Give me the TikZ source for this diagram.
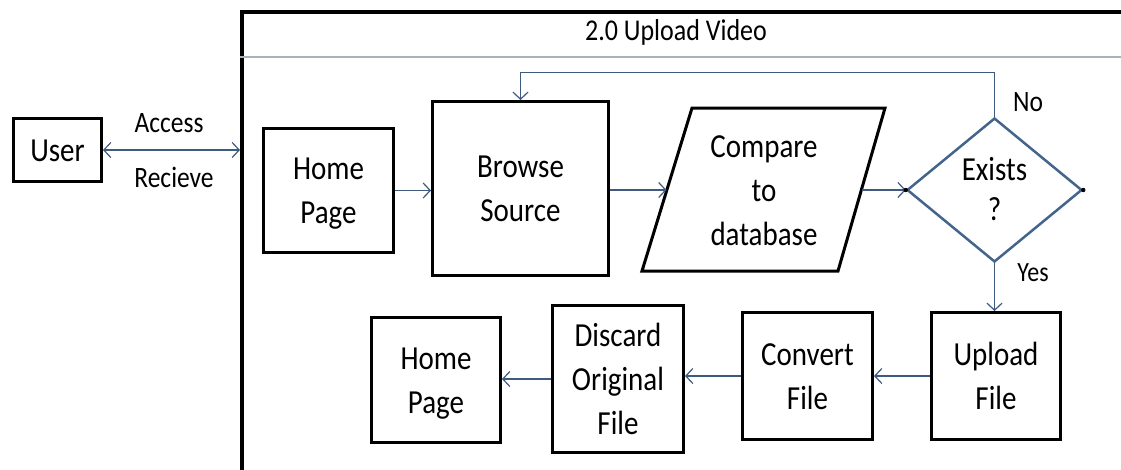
\documentclass[tikz,border=0pt]{standalone}
\usepackage{fontspec}
\usepackage{graphicx}
\setmainfont{Carlito}
\usetikzlibrary{arrows.meta,shapes.geometric}
\definecolor{linkcol}{HTML}{3E5A7E}
\definecolor{diacol}{HTML}{44648C}
\definecolor{rulecol}{HTML}{A9B1BA}
\newcommand\boxfont{\fontsize{29}{38}\selectfont}
\newcommand\lblfont{\fontsize{25.5}{26}\selectfont}
\newcommand\titlefont{\fontsize{26}{26}\selectfont}
% text set slightly taller than wide, ink nudged down a little
\newcommand\tall[1]{\raisebox{-2.5pt}[\height][\depth]{\scalebox{1}[1.16]{\begin{tabular}{@{}c@{}}#1\end{tabular}}}}
\tikzset{
  x=1pt, y=-1pt,
  stepbox/.style={draw=black, line width=3pt, inner sep=0pt, align=center, font=\boxfont},
  barb/.tip={Straight Barb[length=7pt,width=15pt,line width=1.2pt]},
  flow/.style={draw=linkcol, line width=1.3pt, -barb},
  lbl/.style={font=\lblfont, inner sep=0pt}
}
\begin{document}
\begin{tikzpicture}
\useasboundingbox (0,0) rectangle (1121,469);
\clip (0,0) rectangle (1121,469);
\fill[white] (0,0) rectangle (1121,469);

% process frame, open to the right and bottom
\node[draw, line width=3.5pt, minimum width=1000, minimum height=600,
      anchor=north west, inner sep=0pt] (frame) at (240,10) {};
\node[font=\titlefont, inner sep=0pt] (title) at (676,32) {\tall{2.0 Upload Video}};
\coordinate (sepR) at (1121,57);
\draw[rulecol, line width=1.2pt] (frame.west |- sepR) -- (sepR);

% external entity
\node[stepbox, minimum width=88, minimum height=63] (usr) at (57.5,150) {\tall{User}};
\draw[flow, barb-barb] (usr.east) -- (usr.east -| frame.west);
\node[lbl] (acc) at (169,123.5) {\tall{Access}};
\node[lbl] (rcv) at (174,178.5) {\tall{Recieve}};

% upper row
\node[stepbox, minimum width=130, minimum height=124] (home1) at (328.5,190.5) {\tall{Home\\Page}};
\node[stepbox, minimum width=176, minimum height=174] (brw) at (520.5,188.5) {\tall{Browse\\Source}};

\node[align=center, font=\boxfont, inner sep=0pt] (cmp) at (764,190) {\tall{Compare\\to\\database}};
\draw[line width=3pt, line join=miter] (692,108) -- (885,108) -- (838,271) -- (642,271) -- cycle;
\coordinate (cmpW) at (666.5,190);
\coordinate (cmpE) at (862,190);

\node[diamond, draw=diacol, line width=2.5pt, minimum width=175, minimum height=144,
      aspect=1.215, inner sep=0pt, align=center, font={\fontsize{29}{34.5}\selectfont}]
      (ex) at (994.5,190) {\tall{Exists\\?}};

\draw[flow] (home1.east) -- (brw.west |- home1.east);
\draw[flow] (brw.east |- cmpW) -- (cmpW);
\draw[flow] (cmpE) -- (ex.west);
\fill (ex.west) circle (2.2);
\fill (ex.east) circle (2.2);

\draw[flow] (ex.north) -- ++(0,-44) -| (brw.north);
\node[lbl] (no) at (1028,102.5) {\tall{No}};

% lower row
\node[stepbox, minimum width=129, minimum height=127] (upl) at (996,376) {\tall{Upload\\File}};
\node[stepbox, minimum width=130, minimum height=127] (cnv) at (807.5,376) {\tall{Convert\\File}};
\node[stepbox, minimum width=131, minimum height=147] (dsc) at (618,379) {\tall{Discard\\Original\\File}};
\node[stepbox, minimum width=129, minimum height=125] (home2) at (436,380) {\tall{Home\\Page}};

\draw[flow] (ex.south) -- (ex.south |- upl.north);
\node[lbl, font={\fontsize{24}{26}\selectfont}] (yes) at (1033,273) {\tall{Yes}};

\draw[flow] (upl.west) -- (cnv.east |- upl.west);
\draw[flow] (cnv.west) -- (dsc.east |- cnv.west);
\draw[flow] (dsc.west) -- (home2.east |- dsc.west);
\end{tikzpicture}
\end{document}
